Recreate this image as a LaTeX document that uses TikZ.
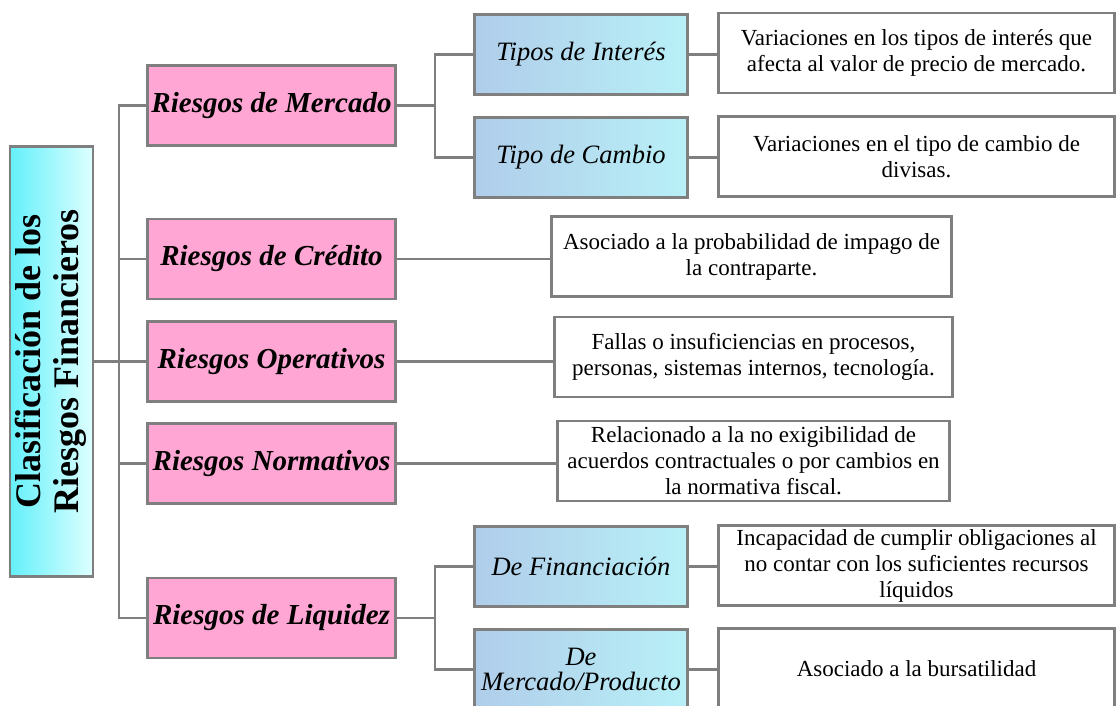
\documentclass[tikz,border=0pt]{standalone}
\usepackage{fontspec}
\usepackage{graphicx}
\setmainfont{Liberation Serif}

\definecolor{linegray}{RGB}{127,127,127}
\definecolor{riskpink}{RGB}{255,166,212}
\definecolor{blueleft}{RGB}{176,205,234}
\definecolor{blueright}{RGB}{184,240,247}
\definecolor{rootleft}{RGB}{100,240,250}
\definecolor{rootright}{RGB}{222,255,255}

\tikzset{
  box/.style={draw=linegray, line width=2.6pt, minimum height=80pt, inner sep=1pt},
  riesgo/.style={box, fill=riskpink, minimum width=248pt,
    font=\fontsize{29}{32}\selectfont\bfseries\itshape},
  subtipo/.style={box, left color=blueleft, right color=blueright, minimum width=213pt,
    align=center, font=\fontsize{26.5}{25}\selectfont\itshape},
  desc/.style={box, fill=white, align=center, font=\fontsize{23}{26}\selectfont},
  conn/.style={draw=linegray, line width=2.6pt},
}

\begin{document}
\begin{tikzpicture}[x=1pt, y=-1pt]

\useasboundingbox (0,0) rectangle (1118,706);
\clip (0,0) rectangle (1118,706);

% clasificacion
\node[draw=linegray, line width=2.6pt, left color=rootleft, right color=rootright,
  minimum width=80pt, minimum height=430pt, font=\fontsize{36}{38}\selectfont\bfseries]
  (root) at (51.5,361.5)
  {\rotatebox{90}{\begin{tabular}{@{}c@{}}Clasificación de los\\Riesgos Financieros\end{tabular}}};

% riesgos
\node[riesgo] (mer) at (271.5,105.5) {Riesgos de Mercado};
\node[riesgo] (cre) at (271.5,259) {Riesgos de Crédito};
\node[riesgo] (ope) at (271.5,361.5) {Riesgos Operativos};
\node[riesgo] (nor) at (271.5,463.5) {Riesgos Normativos};
\node[riesgo] (liq) at (271.5,618) {Riesgos de Liquidez};

% subtipos
\node[subtipo] (tin) at (581,54.5) {Tipos de Interés};
\node[subtipo] (tca) at (581,157.5) {Tipo de Cambio};
\node[subtipo] (fin) at (581,566.5) {De Financiación};
\node[subtipo] (mpr) at (581,669.5) {De\\Mercado/Producto};

% descripciones
\node[desc, minimum width=396pt] (dtin) at (916.5,53)
  {Variaciones en los tipos de interés que\\afecta al valor de precio de mercado.};
\node[desc, minimum width=396pt] (dtca) at (916.5,156.5)
  {Variaciones en el tipo de cambio de\\divisas.};
\node[desc, minimum width=400pt] (dcre) at (751.5,256.5)
  {Asociado a la probabilidad de impago de\\la contraparte.};
\node[desc, minimum width=398pt] (dope) at (753.5,357)
  {Fallas o insuficiencias en procesos,\\personas, sistemas internos, tecnología.};
\node[desc, minimum width=392pt] (dnor) at (753.5,461)
  {Relacionado a la no exigibilidad de\\acuerdos contractuales o por cambios en\\la normativa fiscal.};
\node[desc, minimum width=396pt] (dfin) at (916.5,565.5)
  {Incapacidad de cumplir obligaciones al\\no contar con los suficientes recursos\\líquidos};
\node[desc, minimum width=396pt] (dmpr) at (916.5,668.5) {Asociado a la bursatilidad};

% conectores
\coordinate (tk) at (119,0);
\coordinate (br) at (435,0);
\draw[conn] (root.east) -- (tk |- root.east);
\draw[conn] (mer.west) -| (tk |- liq.west) -- (liq.west);
\draw[conn] (cre.west) -- (tk |- cre.west);
\draw[conn] (ope.west) -- (tk |- ope.west);
\draw[conn] (nor.west) -- (tk |- nor.west);

\draw[conn] (mer.east) -- (br |- mer.east);
\draw[conn] (tin.west) -| (br |- tca.west) -- (tca.west);
\draw[conn] (liq.east) -- (br |- liq.east);
\draw[conn] (fin.west) -| (br |- mpr.west) -- (mpr.west);

\draw[conn] (tin.east) -- (dtin.west |- tin.east);
\draw[conn] (tca.east) -- (dtca.west |- tca.east);
\draw[conn] (fin.east) -- (dfin.west |- fin.east);
\draw[conn] (mpr.east) -- (dmpr.west |- mpr.east);
\draw[conn] (cre.east) -- (dcre.west |- cre.east);
\draw[conn] (ope.east) -- (dope.west |- ope.east);
\draw[conn] (nor.east) -- (dnor.west |- nor.east);

\end{tikzpicture}
\end{document}
